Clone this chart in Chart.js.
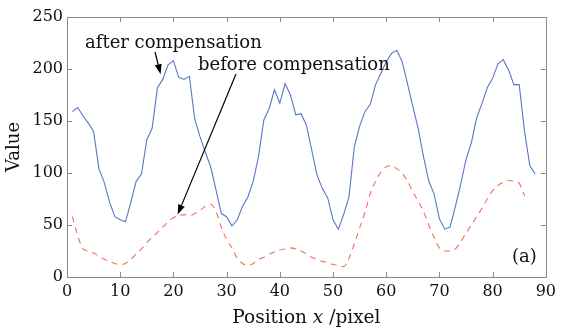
<!DOCTYPE html>
<html>
<head>
<meta charset="utf-8">
<script src="https://cdn.jsdelivr.net/npm/chart.js@4.4.1/dist/chart.umd.min.js"></script>
<style>
html,body{margin:0;padding:0;background:#fff;}
#wrap{position:relative;width:561px;height:333px;}
</style>
</head>
<body>
<div id="wrap"><canvas id="c" width="561" height="333"></canvas></div>
<script>
// Data
const afterX = [];
for (let i = 1; i <= 88; i++) afterX.push(i);
const afterComp = [159,163,155,148,140,104,91,72,58,55,53,72,92,99,132,143,182,190,204,208,
  192,190,193,152,135,120,106,84,61,58,49,55,68,77,92,116,151,162,180,167,
  186,175,156,157,146,122,98,85,76,55,46,60,77,125,145,159,166,185,196,207,
  215,218,207,186,164,143,116,92,80,56,46,48,68,89,113,129,153,167,182,191,
  205,209,199,185,185,140,107,99];
const beforeX = [];
for (let i = 1; i <= 86; i++) beforeX.push(i);
const beforeComp = [58,40,27,25,23,20,17,15,13,12,13,17,22,27,33,38,43,48,53,57,
  59,60,59,61,64,68,70,63,48,36,28,18,13,11,13,17,19,22,24,26,
  27,28,27,25,22,19,17,15,14,12,11,10,18,32,47,62,80,92,101,106,
  107,104,100,92,82,73,63,50,38,28,25,25,27,34,42,50,58,66,75,83,
  88,91,93,92,90,78];
const xTicks = [0,10,20,30,40,50,60,70,80,90];
const yTicks = [0,50,100,150,200,250];
const labels = {after: 'after compensation', before: 'before compensation', panel: '(a)'};
const xTitleParts = ['Position ', 'x', ' /pixel'];

const serif = "'DejaVu Serif', 'Liberation Serif', serif";

const framePlugin = {
  id: 'frame',
  afterDatasetsDraw(chart) {
    const {ctx, chartArea: a, scales} = chart;
    ctx.save();
    ctx.strokeStyle = '#8a8a8a';
    ctx.lineWidth = 1;
    ctx.strokeRect(Math.round(a.left) + 0.5, Math.round(a.top) + 0.5, Math.round(a.right - a.left), Math.round(a.bottom - a.top));
    const tl = 5;
    ctx.beginPath();
    xTicks.forEach(v => {
      const px = Math.round(scales.x.getPixelForValue(v)) + 0.5;
      ctx.moveTo(px, a.bottom); ctx.lineTo(px, a.bottom - tl);
      ctx.moveTo(px, a.top); ctx.lineTo(px, a.top + tl);
    });
    yTicks.forEach(v => {
      const py = Math.round(scales.y.getPixelForValue(v)) + 0.5;
      ctx.moveTo(a.left, py); ctx.lineTo(a.left + tl, py);
      ctx.moveTo(a.right, py); ctx.lineTo(a.right - tl, py);
    });
    ctx.stroke();

    // annotations
    const X = v => scales.x.getPixelForValue(v);
    const Y = v => scales.y.getPixelForValue(v);
    ctx.fillStyle = '#111';
    ctx.font = '18px ' + serif;
    ctx.textBaseline = 'middle';
    ctx.textAlign = 'left';
    ctx.fillText(labels.after, 85, 43);
    ctx.fillText(labels.before, 198, 65);
    ctx.fillText(labels.panel, 512, 257);

    // x axis title with italic x
    const fN = '18.5px ' + serif, fI = 'italic 18.5px ' + serif;
    ctx.font = fN; const w0 = ctx.measureText(xTitleParts[0]).width, w2 = ctx.measureText(xTitleParts[2]).width;
    ctx.font = fI; const w1 = ctx.measureText(xTitleParts[1]).width;
    let sx = (a.left + a.right) / 2 - (w0 + w1 + w2) / 2;
    const ty = 318;
    ctx.font = fN; ctx.fillText(xTitleParts[0], sx, ty); sx += w0;
    ctx.font = fI; ctx.fillText(xTitleParts[1], sx, ty); sx += w1;
    ctx.font = fN; ctx.fillText(xTitleParts[2], sx, ty);

    function arrow(x1, y1, x2, y2) {
      ctx.strokeStyle = '#000';
      ctx.lineWidth = 1.2;
      const ang = Math.atan2(y2 - y1, x2 - x1);
      const hl = 10, hw = 3.5;
      const bx = x2 - hl * Math.cos(ang), by = y2 - hl * Math.sin(ang);
      ctx.beginPath(); ctx.moveTo(x1, y1); ctx.lineTo(bx, by); ctx.stroke();
      ctx.beginPath();
      ctx.moveTo(x2, y2);
      ctx.lineTo(bx + hw * Math.sin(ang), by - hw * Math.cos(ang));
      ctx.lineTo(bx - hw * Math.sin(ang), by + hw * Math.cos(ang));
      ctx.closePath();
      ctx.fillStyle = '#000';
      ctx.fill();
    }
    arrow(155, 52, X(17.6), Y(195));
    arrow(236, 74, X(20.8), Y(60));
    ctx.restore();
  }
};

new Chart(document.getElementById('c'), {
  type: 'line',
  data: {
    datasets: [
      {
        label: labels.after,
        data: afterX.map((x, i) => ({x, y: afterComp[i]})),
        borderColor: '#5a76c8',
        borderWidth: 1.1,
        pointRadius: 0,
        tension: 0,
        fill: false
      },
      {
        label: labels.before,
        data: beforeX.map((x, i) => ({x, y: beforeComp[i]})),
        borderColor: '#f2705a',
        borderWidth: 1.1,
        borderDash: [6, 5],
        pointRadius: 0,
        tension: 0.4,
        cubicInterpolationMode: 'monotone',
        fill: false
      }
    ]
  },
  plugins: [framePlugin],
  options: {
    responsive: false,
    animation: false,
    devicePixelRatio: 1,
    layout: {padding: {top: 17, right: 11, left: 0, bottom: 0}},
    plugins: {legend: {display: false}, tooltip: {enabled: false}},
    scales: {
      x: {
        type: 'linear', min: 0, max: 90,
        afterBuildTicks: s => { s.ticks = xTicks.map(v => ({value: v})); },
        afterFit: s => { s.height = 56; },
        grid: {display: false, drawTicks: false},
        border: {display: false},
        ticks: {color: '#111', font: {family: serif, size: 16}, padding: 5, maxRotation: 0},
        title: {display: false}
      },
      y: {
        type: 'linear', min: 0, max: 250,
        afterBuildTicks: s => { s.ticks = yTicks.map(v => ({value: v})); },
        afterFit: s => { s.width = 67; },
        grid: {display: false, drawTicks: false},
        border: {display: false},
        ticks: {color: '#111', font: {family: serif, size: 16}, padding: 4},
        title: {display: true, text: 'Value', color: '#111', font: {family: serif, size: 18}, padding: {top: 4, bottom: 0}}
      }
    }
  }
});
</script>
</body>
</html>
